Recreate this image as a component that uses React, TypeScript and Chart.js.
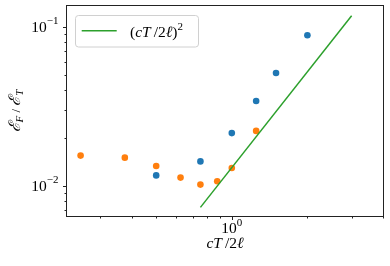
import React, { useEffect, useRef } from 'react';
import { Chart, registerables } from 'chart.js';

Chart.register(...registerables);

// ---- data ----
const blueX = [0.5, 0.75, 1, 1.25, 1.5, 2];
const blueY = [0.0116, 0.0142, 0.0214, 0.0341, 0.0511, 0.0883];
const orangeX = [0.25, 0.375, 0.5, 0.625, 0.75, 0.875, 1, 1.25];
const orangeY = [0.01545, 0.015, 0.0133, 0.01123, 0.01015, 0.01066, 0.0129, 0.0221];
const lineX = [0.75, 3];
const lineY = [0.0073, 0.117];

const xMajorTicks = [1];
const xMajorExp = ['0'];
const xMinorTicks = [0.3, 0.4, 0.5, 0.6, 0.7, 0.8, 0.9, 2, 3, 4];
const yMajorTicks = [0.01, 0.1];
const yMajorExp = ['\u22122', '\u22121'];
const yMinorTicks = [0.007, 0.008, 0.009, 0.02, 0.03, 0.04, 0.05, 0.06, 0.07, 0.08, 0.09];

const X_MIN = 0.2207;
const X_MAX = 4.0;
const Y_MIN = 0.00644;
const Y_MAX = 0.1349;

const BLUE = '#1f77b4';
const ORANGE = '#ff7f0e';
const GREEN = '#2ca02c';
const FONT = "'Liberation Serif', 'DejaVu Serif', serif";

type Part = { t: string; size: number; dy?: number; italic?: boolean };

function partFont(p: Part) {
  return `${p.italic ? 'italic ' : ''}${p.size}px ${FONT}`;
}
function richWidth(ctx: CanvasRenderingContext2D, parts: Part[]) {
  let w = 0;
  for (const p of parts) {
    ctx.font = partFont(p);
    w += ctx.measureText(p.t).width;
  }
  return w;
}
function drawRich(
  ctx: CanvasRenderingContext2D,
  parts: Part[],
  x: number,
  y: number,
  align: 'left' | 'center' | 'right'
) {
  const w = richWidth(ctx, parts);
  let cx = align === 'left' ? x : align === 'center' ? x - w / 2 : x - w;
  ctx.textAlign = 'left';
  ctx.textBaseline = 'alphabetic';
  for (const p of parts) {
    ctx.font = partFont(p);
    ctx.fillText(p.t, cx, y + (p.dy || 0));
    cx += ctx.measureText(p.t).width;
  }
}

const legendParts: Part[] = [
  { t: '(', size: 15.5 },
  { t: 'cT', size: 15.5, italic: true },
  { t: '\u2009/', size: 15.5 },
  { t: '2', size: 15.5 },
  { t: '\u2113', size: 15.5, italic: true },
  { t: ')', size: 15.5 },
  { t: '2', size: 11, dy: -7 },
];
const xTitleParts: Part[] = [
  { t: 'cT', size: 15.5, italic: true },
  { t: '\u2009/', size: 15.5 },
  { t: '2', size: 15.5 },
  { t: '\u2113', size: 15.5, italic: true },
];
const yTitleParts: Part[] = [
  { t: '\u2130', size: 16, italic: true },
  { t: 'F', size: 11, dy: 3, italic: true },
  { t: ' / ', size: 13 },
  { t: '\u2130', size: 16, italic: true },
  { t: 'T', size: 11, dy: 3, italic: true },
];

const decorPlugin = {
  id: 'decor',
  afterDraw(chart: any) {
    const ctx: CanvasRenderingContext2D = chart.ctx;
    const ca = chart.chartArea;
    const xs = chart.scales.x;
    const ys = chart.scales.y;
    ctx.save();
    // frame
    ctx.strokeStyle = '#222';
    ctx.lineWidth = 1;
    const l = Math.round(ca.left) - 0.5;
    const t = Math.round(ca.top) - 0.5;
    const r = Math.round(ca.right) + 0.5;
    const b = Math.round(ca.bottom) + 0.5;
    ctx.strokeRect(l, t, r - l, b - t);

    // ticks
    ctx.beginPath();
    const xTick = (v: number, len: number) => {
      const px = Math.round(xs.getPixelForValue(v)) + 0.5;
      ctx.moveTo(px, b);
      ctx.lineTo(px, b + len);
    };
    const yTick = (v: number, len: number) => {
      const py = Math.round(ys.getPixelForValue(v)) + 0.5;
      ctx.moveTo(l, py);
      ctx.lineTo(l - len, py);
    };
    xMajorTicks.forEach((v) => xTick(v, 3.5));
    xMinorTicks.forEach((v) => xTick(v, 2));
    yMajorTicks.forEach((v) => yTick(v, 3.5));
    yMinorTicks.forEach((v) => yTick(v, 2));
    ctx.stroke();

    // tick labels
    ctx.fillStyle = '#000';
    xMajorTicks.forEach((v, i) => {
      const px = xs.getPixelForValue(v);
      drawRich(
        ctx,
        [
          { t: '10', size: 15.5 },
          { t: xMajorExp[i], size: 11, dy: -7 },
        ],
        px,
        b + 16.5,
        'center'
      );
    });
    yMajorTicks.forEach((v, i) => {
      const py = ys.getPixelForValue(v);
      drawRich(
        ctx,
        [
          { t: '10', size: 15.5 },
          { t: yMajorExp[i], size: 11, dy: -7.5 },
        ],
        l - 8,
        py + 5.3,
        'right'
      );
    });

    // axis titles
    drawRich(ctx, xTitleParts, (ca.left + ca.right) / 2, 248, 'center');
    ctx.save();
    ctx.translate(19.5, (ca.top + ca.bottom) / 2);
    ctx.rotate(-Math.PI / 2);
    drawRich(ctx, yTitleParts, 0, 0, 'center');
    ctx.restore();

    // legend
    const bx = 75.5, by = 15.5, bw = 123, bh = 31.5, rad = 3;
    ctx.beginPath();
    ctx.moveTo(bx + rad, by);
    ctx.lineTo(bx + bw - rad, by);
    ctx.quadraticCurveTo(bx + bw, by, bx + bw, by + rad);
    ctx.lineTo(bx + bw, by + bh - rad);
    ctx.quadraticCurveTo(bx + bw, by + bh, bx + bw - rad, by + bh);
    ctx.lineTo(bx + rad, by + bh);
    ctx.quadraticCurveTo(bx, by + bh, bx, by + bh - rad);
    ctx.lineTo(bx, by + rad);
    ctx.quadraticCurveTo(bx, by, bx + rad, by);
    ctx.closePath();
    ctx.fillStyle = 'rgba(255,255,255,0.8)';
    ctx.fill();
    ctx.strokeStyle = '#d0d0d0';
    ctx.lineWidth = 1;
    ctx.stroke();
    const ds = chart.data.datasets[2];
    ctx.strokeStyle = ds.borderColor;
    ctx.lineWidth = 1.5;
    ctx.beginPath();
    ctx.moveTo(81.7, 30.7);
    ctx.lineTo(116.7, 30.7);
    ctx.stroke();
    ctx.fillStyle = '#000';
    drawRich(ctx, legendParts, 130, 37, 'left');
    ctx.restore();
  },
};

export default function App() {
  const ref = useRef<HTMLCanvasElement>(null);
  useEffect(() => {
    const chart = new Chart(ref.current!, {
      type: 'scatter',
      data: {
        datasets: [
          {
            label: 'blue',
            data: blueX.map((x, i) => ({ x, y: blueY[i] })),
            backgroundColor: BLUE,
            borderColor: BLUE,
            pointRadius: 3.3,
            borderWidth: 0,
            order: 2,
          },
          {
            label: 'orange',
            data: orangeX.map((x, i) => ({ x, y: orangeY[i] })),
            backgroundColor: ORANGE,
            borderColor: ORANGE,
            pointRadius: 3.3,
            borderWidth: 0,
            order: 1,
          },
          {
            type: 'line',
            label: '(cT/2\u2113)\u00b2',
            data: lineX.map((x, i) => ({ x, y: lineY[i] })),
            borderColor: GREEN,
            backgroundColor: GREEN,
            borderWidth: 1.5,
            pointRadius: 0,
            showLine: true,
            fill: false,
            order: 0,
          } as any,
        ],
      },
      options: {
        animation: false,
        responsive: false,
        devicePixelRatio: 1,
        layout: { padding: { top: 6, right: 7, left: 0, bottom: 0 } },
        plugins: { legend: { display: false }, tooltip: { enabled: false } },
        scales: {
          x: {
            type: 'logarithmic',
            min: X_MIN,
            max: X_MAX,
            ticks: { display: false },
            grid: { display: false },
            border: { display: false },
            afterFit: (s: any) => {
              s.height = 50;
            },
          },
          y: {
            type: 'logarithmic',
            min: Y_MIN,
            max: Y_MAX,
            ticks: { display: false },
            grid: { display: false },
            border: { display: false },
            afterFit: (s: any) => {
              s.width = 67;
            },
          },
        },
      },
      plugins: [decorPlugin],
    });
    return () => chart.destroy();
  }, []);
  return (
    <div style={{ position: 'absolute', left: 0, top: 0, width: 390, height: 266 }}>
      <canvas ref={ref} width={390} height={266} style={{ display: 'block', width: 390, height: 266 }} />
    </div>
  );
}
